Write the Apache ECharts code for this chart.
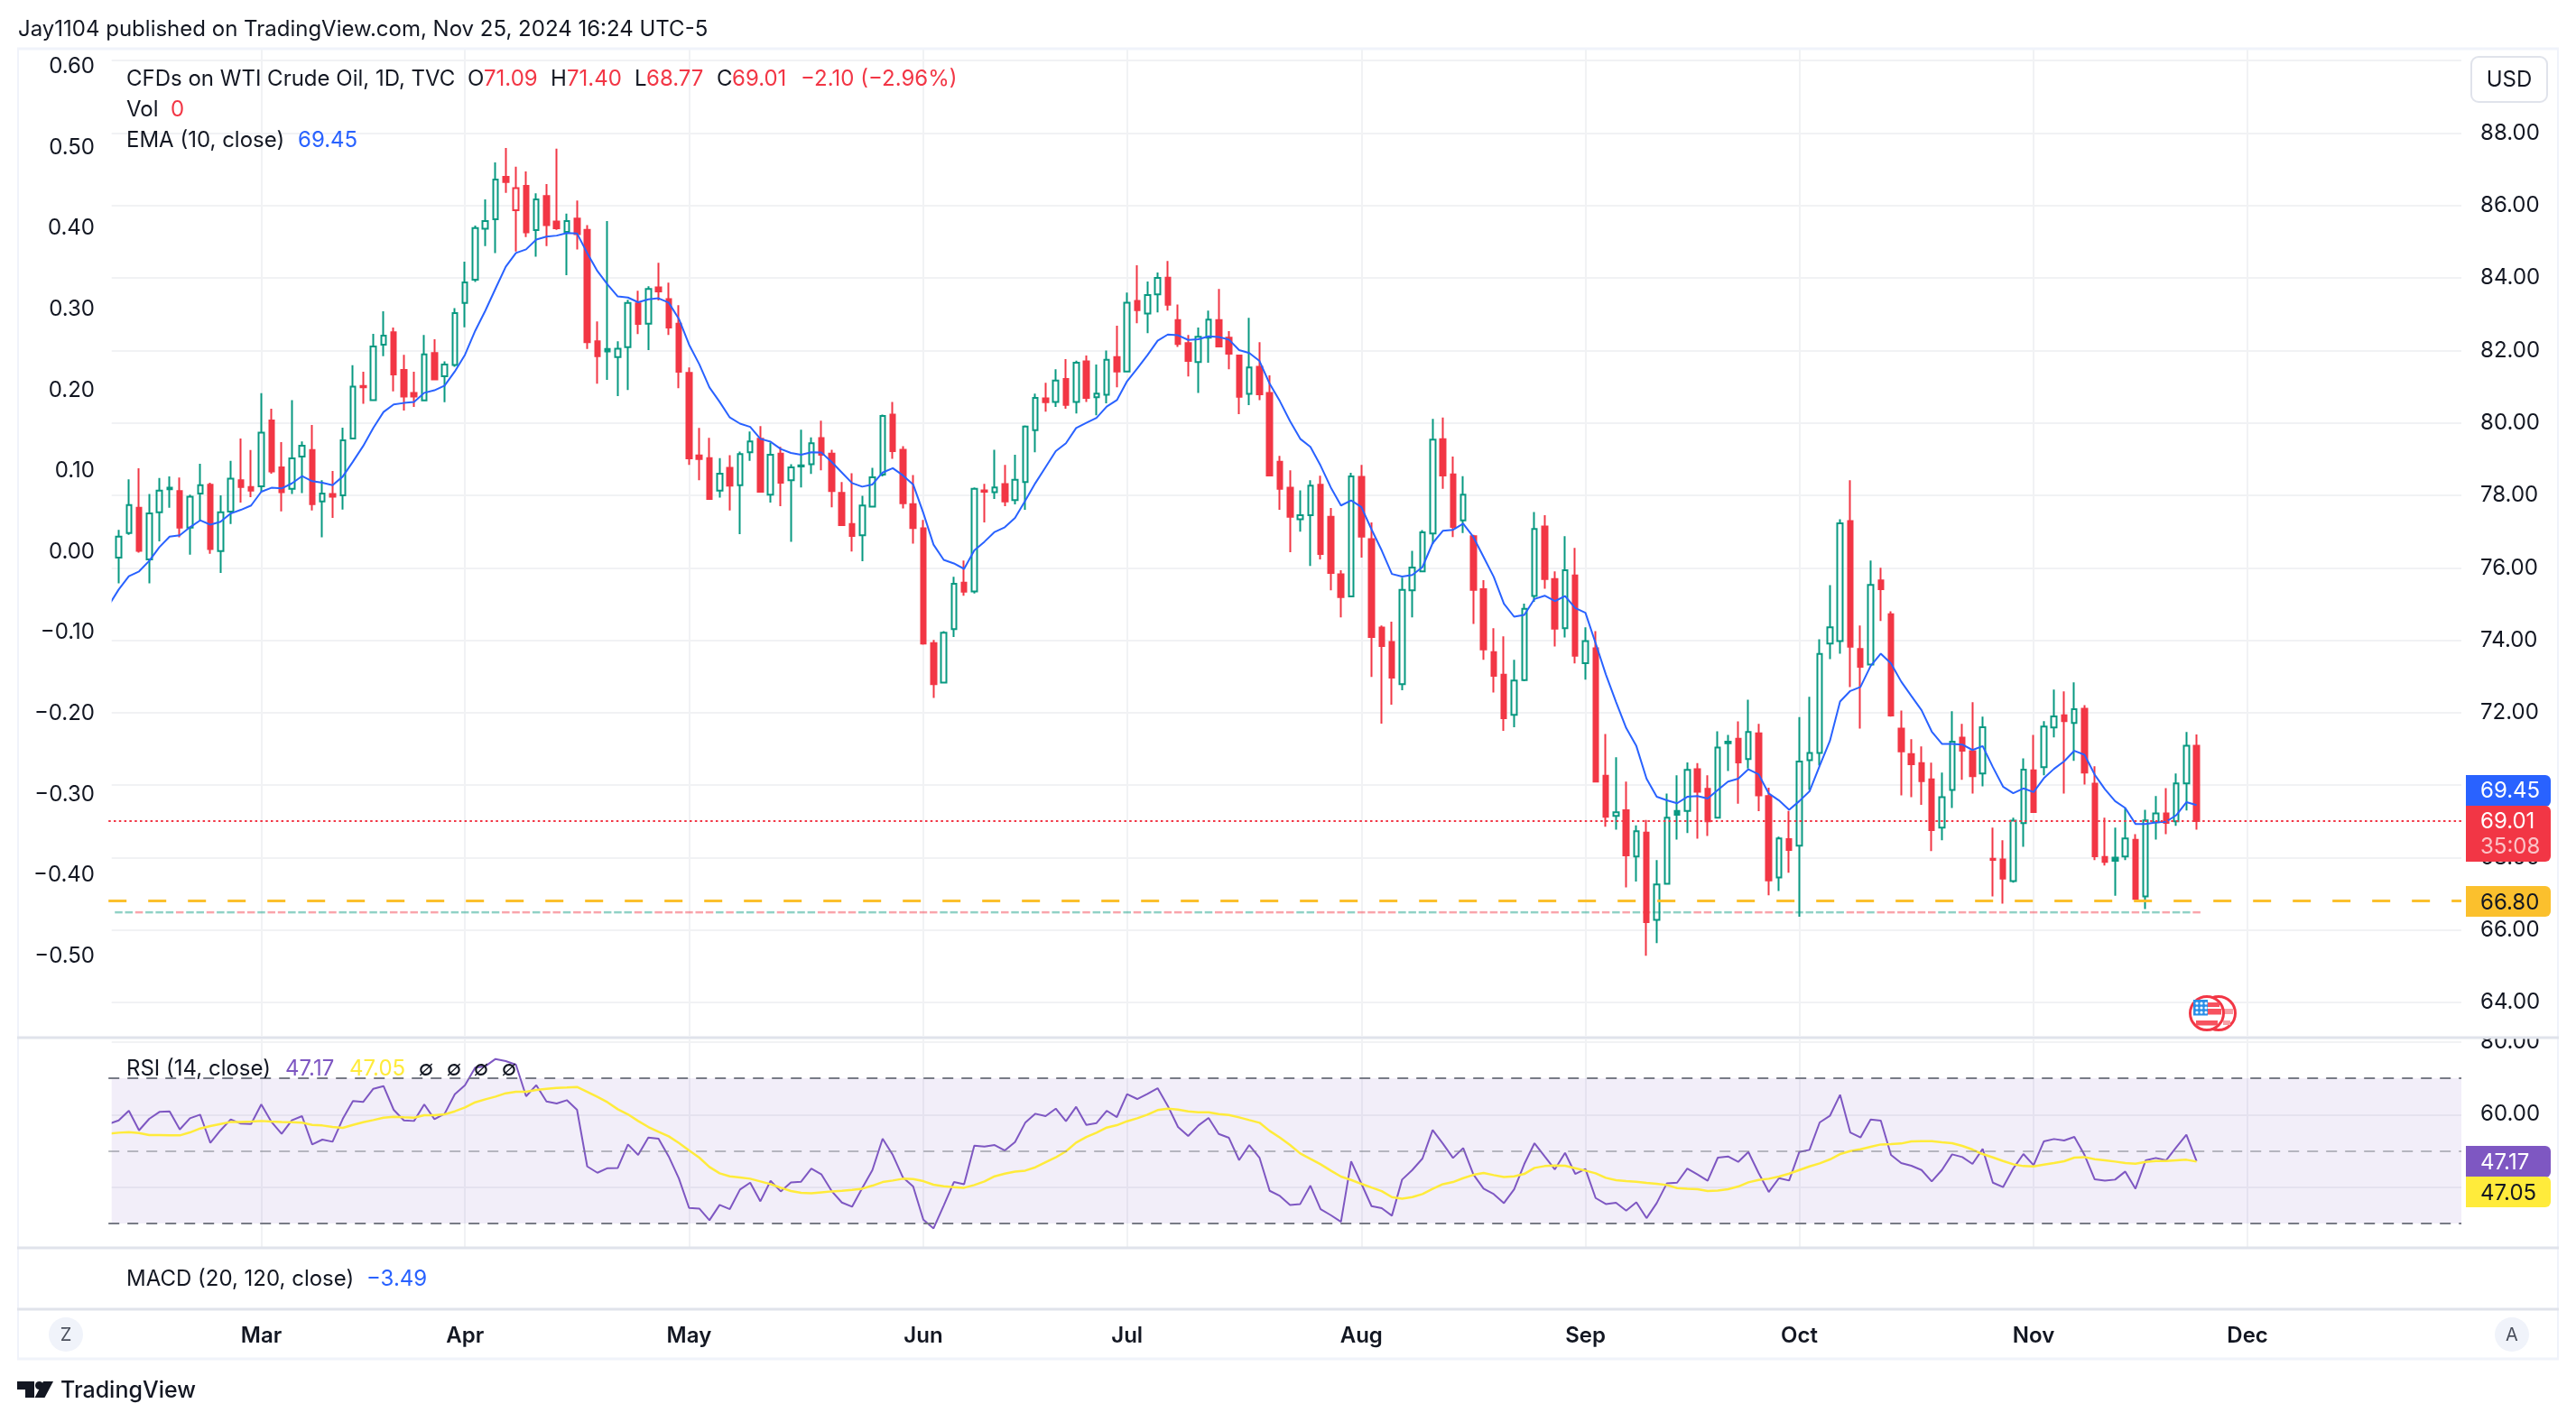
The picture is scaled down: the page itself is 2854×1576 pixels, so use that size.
<!DOCTYPE html>
<html><head><meta charset="utf-8">
<style>html,body{margin:0;padding:0;background:#fff}#c{width:2854px;height:1576px}</style>
<script src="https://cdn.jsdelivr.net/npm/echarts@6/dist/echarts.min.js"></script>
</head><body><div id="c"></div>
<script>
// open, close, low, high : Feb 12 – Nov 25 2024
const ohlc=[
[76.28,76.86,75.57,77.05],[76.96,77.73,76.91,78.44],[77.66,76.47,76.42,78.75],[76.23,77.50,75.57,78.04],[77.53,78.13,76.73,78.48],[78.21,78.17,77.66,78.52],[78.12,77.11,76.84,78.49],[77.11,77.96,76.36,78.02],[78.05,78.28,77.30,78.87],[78.29,76.52,76.39,78.35],
[76.46,77.53,75.86,78.00],[77.55,78.46,77.21,78.95],[78.42,78.23,77.80,79.57],[78.23,78.13,77.95,79.25],[78.25,79.73,78.10,80.82],[80.07,78.66,78.60,80.39],[78.77,78.09,77.56,79.47],[78.18,79.02,78.04,80.63],[79.07,79.37,78.06,79.49],[79.25,77.76,77.58,79.94],
[77.83,78.05,76.84,78.42],[78.04,77.96,77.38,78.67],[78.00,79.52,77.61,79.87],[79.57,81.00,79.55,81.59],[81.02,80.98,80.53,81.41],[80.63,82.11,80.60,82.46],[82.16,82.41,81.84,83.08],[82.50,81.34,80.87,82.63],[81.46,80.73,80.34,81.88],[80.83,80.73,80.44,81.41],
[80.62,81.89,80.60,82.43],[81.93,81.20,81.19,82.31],[81.29,81.61,80.57,81.70],[81.60,83.03,81.55,83.17],[83.31,83.88,82.64,84.45],[83.95,85.38,83.89,85.45],[85.36,85.57,84.88,86.17],[85.62,86.72,84.69,87.19],[86.79,86.65,86.35,87.59],[85.87,86.48,84.73,87.07],
[86.54,85.26,85.13,86.94],[85.32,86.17,84.59,86.34],[86.26,85.46,84.88,86.59],[85.56,85.37,85.33,87.57],[85.27,85.57,84.08,85.78],[85.64,85.21,84.79,86.14],[85.33,82.23,82.04,85.46],[82.25,81.84,81.08,82.80],[82.04,81.97,81.19,85.57],[81.82,82.05,80.74,82.25],
[82.09,83.31,80.91,83.40],[83.30,82.73,82.45,83.65],[82.74,83.70,82.01,83.77],[83.74,83.63,83.38,84.42],[83.42,82.63,82.43,83.87],[82.74,81.41,80.96,83.25],[81.38,79.02,78.84,81.53],[79.10,79.00,78.42,79.86],[79.03,77.90,77.90,79.59],[78.13,78.60,77.94,79.03],
[78.76,78.27,77.58,79.11],[78.28,79.14,76.93,79.21],[79.19,79.49,78.95,79.76],[79.56,78.10,78.10,79.91],[78.02,79.12,77.80,79.46],[79.15,78.35,77.70,79.34],[78.42,78.77,76.72,78.86],[78.80,78.83,78.22,79.81],[78.86,79.44,78.59,79.60],[79.58,79.12,78.69,80.06],
[79.15,78.12,77.67,79.26],[78.07,77.18,77.18,78.37],[77.21,76.88,76.45,78.61],[76.90,77.72,76.18,77.99],[77.69,78.50,77.69,78.76],[78.57,80.19,78.52,80.23],[80.23,79.22,79.01,80.58],[79.26,77.78,77.64,79.36],[77.76,77.10,76.67,78.56],[77.09,73.91,73.88,77.32],
[73.92,72.79,72.41,74.01],[72.83,74.21,72.82,74.25],[74.31,75.56,74.09,75.75],[75.59,75.34,75.23,76.20],[75.35,78.18,75.29,78.22],[78.14,78.10,77.25,78.32],[78.09,78.22,77.90,79.26],[78.31,77.83,77.70,78.84],[77.87,78.43,77.75,79.12],[78.37,79.90,77.60,79.93],
[79.80,80.69,79.19,80.81],[80.68,80.57,80.31,81.11],[80.58,81.17,80.44,81.48],[81.21,80.50,80.39,81.76],[80.58,81.66,80.26,81.72],[81.70,80.69,80.58,81.86],[80.71,80.81,80.21,81.61],[80.78,81.74,80.54,82.00],[81.82,81.42,80.98,82.68],[81.42,83.32,81.41,83.60],
[83.37,83.11,82.75,84.35],[83.02,83.53,82.48,83.90],[83.55,84.00,83.05,84.15],[84.01,83.26,83.10,84.47],[82.84,82.18,82.10,83.27],[82.20,81.71,81.28,82.43],[81.68,82.38,80.83,82.63],[82.35,82.85,81.66,83.10],[82.84,82.11,82.11,83.70],[82.35,81.91,81.48,82.53],
[81.86,80.72,80.24,81.88],[80.80,81.53,80.49,82.90],[81.55,80.79,80.63,82.23],[80.83,78.55,78.54,81.31],[78.93,78.18,77.60,79.09],[78.21,77.41,76.43,78.69],[77.34,77.45,77.00,78.14],[77.45,78.27,76.05,78.42],[78.29,76.38,76.23,78.54],[77.41,75.86,75.38,77.65],
[75.82,75.19,74.63,75.93],[75.21,78.52,75.20,78.62],[78.51,76.86,76.28,78.84],[76.79,74.09,72.99,77.25],[74.35,73.84,71.70,74.41],[73.95,72.97,72.22,74.51],[72.79,75.39,72.62,75.73],[75.38,76.01,74.63,76.47],[75.90,76.98,75.89,77.04],[76.95,79.54,76.66,80.11],
[79.55,78.55,78.18,80.15],[78.58,77.13,76.85,79.07],[77.31,78.02,76.96,78.53],[76.87,75.39,74.45,76.91],[75.41,73.75,73.46,75.66],[73.67,73.02,72.56,74.33],[73.05,71.85,71.50,74.11],[71.94,72.89,71.60,73.46],[72.90,74.87,72.87,75.01],[75.22,77.07,75.06,77.54],
[77.14,75.69,75.42,77.45],[75.69,74.32,73.83,75.90],[74.33,75.93,74.08,76.87],[75.79,73.57,73.36,76.55],[73.37,73.98,72.91,74.36],[73.78,70.10,70.10,74.25],[70.26,69.13,68.85,71.41],[69.15,69.25,68.77,70.77],[69.31,68.06,67.18,70.10],[68.03,68.73,67.34,68.89],
[68.69,66.22,65.29,69.04],[66.28,67.26,65.64,67.93],[67.28,69.10,67.27,69.77],[69.29,69.18,68.50,70.27],[69.29,70.42,68.68,70.63],[70.44,69.82,68.52,70.61],[69.90,69.00,68.60,70.27],[69.10,71.04,69.08,71.49],[71.16,71.20,70.39,71.39],[71.28,70.63,69.49,71.76],
[70.72,71.47,70.46,72.36],[71.43,69.72,69.28,71.69],[69.70,67.37,66.96,69.93],[67.45,68.53,67.08,68.58],[68.51,68.21,67.58,69.29],[68.33,70.65,66.37,71.88],[70.69,70.89,69.87,72.44],[70.89,73.62,70.54,74.03],[73.91,74.36,73.48,75.52],[73.98,77.23,73.63,77.34],
[77.29,73.82,72.71,78.42],[73.76,73.27,71.56,74.41],[73.33,75.53,73.31,76.20],[75.65,75.41,74.53,76.00],[74.72,71.92,71.89,74.80],[71.56,70.93,69.72,72.06],[70.86,70.58,69.67,71.27],[70.61,70.11,69.46,71.07],[70.16,68.76,68.18,70.62],[68.83,69.67,68.48,70.35],
[69.87,71.20,69.37,72.04],[71.31,70.95,70.15,71.69],[70.94,70.25,69.77,72.29],[70.32,71.60,69.97,71.89],[67.97,67.94,66.93,68.83],[67.95,67.42,66.73,68.48],[67.35,69.02,67.31,69.10],[68.95,70.43,68.30,70.74],[70.41,69.26,69.26,71.39],[70.50,71.62,70.27,71.77],
[71.59,71.90,71.32,72.64],[71.93,71.77,69.77,72.59],[71.72,72.10,70.67,72.84],[72.11,70.35,70.02,72.21],[70.04,68.04,67.93,70.52],[68.02,67.88,67.78,69.10],[68.00,67.91,66.95,68.83],[68.03,68.53,67.93,69.37],[68.49,66.86,66.84,68.65],[66.93,69.03,66.58,69.32],
[68.98,69.22,68.50,69.70],[69.22,68.96,68.65,69.92],[69.00,70.05,68.88,70.32],[70.05,71.09,69.30,71.47],[71.09,69.01,68.77,71.40]
];
// candle tone per session, G = closed above the previous close, R = below
const tones=("GGRGGGRGGR"+"GGRRGRRGGR"+"GRGGRGGRRR"+"GRGGGGGGRR"+"RGRRGRRRGG"+"GRGRRRRRRG"+"RGGRGRGGGR"+"RRRGGGRRRR"+"RGGRGRGRGG"+"GRGRGRGGRG"+
"RGGRRRGGRR"+"RGRRRRGGRR"+"RGRRRRGGGG"+"RRGRRRRGGG"+"RRGRGRRGRG"+"RGGGGRRGGR"+"GRRGRGGGGG"+"RRGRRRRRRG"+"GRRGRRGGRG"+"GRGRRRGGRG"+"GRGGR");
// first entry belongs to the session before the first visible candle
const ema=[74.95,
75.40,75.77,75.90,76.19,76.57,76.86,76.90,77.12,77.31,77.19,
77.27,77.50,77.60,77.72,78.10,78.21,78.19,78.33,78.53,78.39,
78.35,78.28,78.52,78.93,79.36,79.86,80.30,80.51,80.55,80.58,
80.83,80.90,81.03,81.42,81.88,82.54,83.10,83.71,84.31,84.69,
84.79,85.06,85.14,85.17,85.24,85.23,84.69,84.19,83.82,83.49,
83.46,83.33,83.41,83.44,83.32,82.87,82.16,81.62,80.98,80.58,
80.15,79.98,79.89,79.56,79.48,79.28,79.17,79.12,79.19,79.18,
78.92,78.63,78.34,78.24,78.30,78.63,78.75,78.55,78.30,77.51,
76.64,76.22,76.12,75.97,76.48,76.72,76.99,77.12,77.38,77.85,
78.34,78.78,79.22,79.44,79.86,80.00,80.14,80.45,80.63,81.15,
81.50,81.87,82.27,82.44,82.42,82.29,82.31,82.39,82.37,82.30,
82.01,81.93,81.71,81.08,80.60,80.05,79.56,79.34,78.82,78.22,
77.72,77.86,77.68,77.06,76.48,75.83,75.76,75.80,76.02,76.68,
77.02,77.05,77.22,76.85,76.30,75.75,75.01,74.65,74.70,75.14,
75.23,75.08,75.22,74.89,74.76,73.92,73.06,72.30,71.58,71.08,
70.18,69.68,69.58,69.50,69.68,69.70,69.63,69.87,70.10,70.18,
70.44,70.30,69.77,69.58,69.32,69.56,69.83,70.54,71.22,72.31,
72.60,72.71,73.29,73.63,73.36,72.86,72.46,72.07,71.48,71.14,
71.14,71.12,70.97,71.08,70.50,69.96,69.78,69.91,69.81,70.19,
70.45,70.66,70.95,70.84,70.29,69.89,69.56,69.37,68.93,68.93,
68.97,68.99,69.17,69.53,69.45];
const rsi=[57.40,
58.40,61.05,55.66,58.81,60.72,60.88,55.91,58.98,59.97,52.18,
55.66,58.65,57.49,57.40,62.79,57.98,54.67,58.40,59.56,51.77,
53.10,52.52,58.81,63.70,63.45,67.10,67.84,61.30,58.40,58.23,
62.79,58.73,60.22,65.61,68.09,72.90,73.31,75.30,74.72,73.73,
65.03,68.09,63.62,63.04,63.95,61.30,45.72,43.98,45.23,45.31,
51.77,48.87,53.68,53.34,48.46,42.41,34.29,34.12,30.89,35.12,
33.96,39.34,41.25,36.11,41.75,38.85,41.33,41.50,45.14,43.49,
38.93,35.78,34.62,39.76,44.73,53.34,48.87,42.66,40.17,31.06,
28.66,34.95,41.41,40.83,51.44,51.19,51.61,50.11,52.43,57.74,
60.22,59.56,61.63,58.15,62.13,57.16,57.65,61.05,59.31,65.61,
64.28,65.69,67.26,62.38,56.58,54.09,56.99,59.06,54.67,53.59,
47.46,51.61,48.13,39.01,37.60,35.12,35.37,40.42,33.96,32.30,
30.48,47.13,41.00,34.79,34.21,32.14,42.08,44.73,47.88,55.75,
52.02,48.04,50.78,43.49,39.59,38.10,35.62,39.43,46.39,52.10,
48.46,44.89,49.45,43.65,44.98,37.02,35.37,35.70,33.54,35.86,
31.47,35.62,41.08,41.25,45.14,43.49,41.75,48.13,48.46,46.97,
49.70,43.90,38.68,42.49,41.83,49.70,50.28,57.82,59.64,65.44,
55.08,53.68,58.65,58.32,48.87,46.63,45.89,44.73,41.58,44.73,
49.04,48.29,46.39,50.53,41.25,40.01,45.14,49.12,46.05,52.60,
53.26,52.85,53.84,48.87,42.16,41.83,42.08,44.31,39.59,47.38,
48.04,47.38,50.94,54.42,47.17];
const rsiMa=[54.75,
55.00,55.17,54.92,54.34,54.34,54.26,54.26,55.08,56.16,56.82,
57.40,57.98,57.98,58.07,58.23,58.07,57.98,57.90,57.74,57.16,
56.99,56.58,56.33,57.16,57.90,58.48,59.14,59.39,59.23,59.14,
59.81,59.81,60.06,60.88,61.96,63.37,64.20,64.94,65.86,66.27,
66.27,66.77,67.10,67.35,67.43,67.60,66.27,64.86,63.37,61.46,
60.06,58.23,56.58,55.25,54.01,52.18,50.11,48.13,45.56,43.82,
42.99,42.66,42.33,41.58,40.83,39.84,38.93,38.43,38.35,38.60,
38.85,39.01,39.26,39.59,40.42,41.41,41.83,42.33,42.24,41.66,
40.67,40.25,40.01,39.84,40.59,41.58,42.99,43.73,44.31,44.56,
45.47,46.88,48.21,49.87,52.27,53.84,55.00,56.41,57.07,58.15,
58.98,59.97,61.22,61.63,61.38,60.88,60.64,60.64,60.14,59.89,
59.23,58.48,57.74,55.50,53.68,51.61,49.29,47.79,46.30,44.56,
42.91,41.99,40.92,39.92,38.93,37.27,36.86,37.27,38.10,39.51,
40.83,41.41,42.49,43.40,43.90,43.32,42.82,42.99,43.65,45.31,
45.81,45.97,45.89,45.23,44.56,43.82,42.57,41.91,41.66,41.50,
41.17,40.92,40.59,39.76,39.59,39.43,38.93,39.09,39.43,40.17,
41.33,41.99,42.33,42.91,43.73,44.73,45.72,46.55,47.63,49.12,
49.95,50.45,51.11,51.77,51.85,52.02,52.60,52.68,52.68,52.35,
52.10,51.36,50.36,49.12,48.21,47.21,46.30,45.81,45.72,46.22,
46.63,47.13,48.13,48.29,47.71,47.38,47.05,46.63,46.47,46.97,
47.21,47.21,47.38,47.55,47.05];
const volumeMarkerLevel=66.49;
const lastClose=69.01, alertLevel=66.80;
const rsiBands=[70,50,30];
const monthLabels=['Mar','Apr','May','Jun','Jul','Aug','Sep','Oct','Nov','Dec'];
const monthStarts=['2024-03-01','2024-04-01','2024-05-01','2024-06-03','2024-07-01','2024-08-01','2024-09-02','2024-10-01','2024-11-01','2024-12-02'];
const firstSession='2024-02-09', holidays=['2024-03-29'], sessionCount=232;

const categories=[];
for(let d=new Date(firstSession+'T00:00:00Z');categories.length<sessionCount;d=new Date(+d+864e5)){
  const s=d.toISOString().slice(0,10),w=d.getUTCDay();
  if(w!==0&&w!==6&&!holidays.includes(s))categories.push(s);
}
const isMonth=(i,v)=>monthStarts.includes(v);
const monthName=v=>monthLabels[monthStarts.indexOf(v)]||'';

const GREEN='#089981',RED='#f23645',BLUE='#2962ff',INK='#131722',PURPLE='#7e57c2',YELLOW='#ffeb3b',GRID='#f1f2f4',FRAME='#f0f3fa',SEP='#e0e3eb',ORANGE='#fbc02d';
const FF='Inter, "Liberation Sans", sans-serif';
const font=(s,w)=>(w||400)+' '+s+'px '+FF;

const candleData=[{value:['-','-','-','-']}].concat(ohlc.map((r,i)=>{
  const c=tones[i]==='G'?GREEN:RED;
  const fill=r[1]>r[0]?'rgba(255,255,255,0)':c;
  return {value:r,itemStyle:{color:fill,color0:fill,borderColor:c,borderColor0:c}};
}));
const volData=[null].concat(ohlc.map((r,i)=>({value:volumeMarkerLevel,itemStyle:{color:tones[i]==='G'?GREEN:RED,opacity:0.45}})));

const L=120.2,W=231*11.285;
const blank={show:false};
const catAxis=(g,extra)=>Object.assign({type:'category',gridIndex:g,data:categories,boundaryGap:false,axisLine:blank,axisTick:blank,axisLabel:blank,splitLine:blank},extra||{});
const vLines={show:true,interval:isMonth,lineStyle:{color:GRID,width:2}};

const t=(text,x,y,fill,f,align,z)=>({type:'text',z:z||30,silent:true,style:{text,x,y:y+1.5,fill:fill||INK,font:f||font(24),align:align||'left',verticalAlign:'middle'}});
const rect=(x,y,w,h,fill,z,r)=>({type:'rect',z:z||5,silent:true,shape:{x,y,width:w,height:h,r:r||0},style:{fill}});
const hl=(x1,x2,y,c,w,z)=>({type:'line',z:z||25,silent:true,shape:{x1,y1:y,x2,y2:y},style:{stroke:c,lineWidth:w}});
const vl=(x,y1,y2,c,w,z)=>({type:'line',z:z||25,silent:true,shape:{x1:x,y1,x2:x,y2},style:{stroke:c,lineWidth:w}});
const dot=(cx,cy)=>({type:'circle',z:30,silent:true,shape:{cx,cy,r:1.6},style:{fill:'#fff'}});

const F=24;
const axisText={color:INK,fontFamily:FF,fontSize:F,padding:[6,0,0,0]};
const graphics=[
  rect(21,55,102.7,1327,'#fff',5),
  rect(2731,1122,102,27,'#fff',6),
  // frame and separators
  hl(19,2835,54,FRAME,3),hl(19,2835,1506,FRAME,3),vl(20,54,1506,FRAME,2),vl(2834,54,1506,FRAME,2),
  hl(19,2835,1150,SEP,3),hl(19,2835,1383,SEP,3),hl(19,2835,1451,SEP,3),
  // header
  t('Jay1104 published on TradingView.com, Nov 25, 2024 16:24 UTC-5',20,31,INK,font(24)),
  t('CFDs on WTI Crude Oil, 1D, TVC',140,86),
  t('O',518,86),t('71.09',536,86,RED),t('H',610,86),t('71.40',628,86,RED),t('L',703,86),t('68.77',716,86,RED),t('C',794,86),t('69.01',811,86,RED),
  t('−2.10 (−2.96%)',887,86,RED),
  t('Vol',140,120),t('0',189,120,RED),
  t('EMA (10, close)',140,154),t('69.45',330,154,BLUE),
  t('RSI (14, close)',140,1183),t('47.17',316,1183,PURPLE),t('47.05',387,1183,YELLOW),
  t('∅',472,1183,INK,font(24),'center'),t('∅',503,1183,INK,font(24),'center'),t('∅',533,1183,INK,font(24),'center'),t('∅',564,1183,INK,font(24),'center'),
  t('MACD (20, 120, close)',140,1416),t('−3.49',406,1416,BLUE),
  // USD button
  {type:'rect',z:26,silent:true,shape:{x:2738,y:63,width:84,height:50,r:8},style:{fill:'#fff',stroke:SEP,lineWidth:2}},
  t('USD',2780,87,INK,font(24),'center'),
  // price tags
  {type:'rect',z:26,silent:true,shape:{x:2732,y:859,width:94,height:35,r:[0,6,6,0]},style:{fill:BLUE}},
  t('69.45',2748,875,'#fff'),
  {type:'rect',z:27,silent:true,shape:{x:2732,y:893,width:94,height:62,r:[0,6,6,0]},style:{fill:RED}},
  t('69.01',2748,909,'#fff'),t('35:08',2748,937,'rgba(255,255,255,0.7)'),
  {type:'rect',z:26,silent:true,shape:{x:2732,y:982,width:94,height:34,r:[0,6,6,0]},style:{fill:ORANGE}},
  t('66.80',2748,999,INK),
  {type:'rect',z:26,silent:true,shape:{x:2732,y:1270,width:94,height:35,r:[0,6,6,0]},style:{fill:PURPLE}},
  t('47.17',2748,1287,'#fff'),
  {type:'rect',z:27,silent:true,shape:{x:2732,y:1304,width:94,height:34,r:[0,6,6,0]},style:{fill:YELLOW}},
  t('47.05',2748,1321,INK),
  // corner buttons
  {type:'circle',z:26,silent:true,shape:{cx:73,cy:1479,r:19},style:{fill:FRAME}},t('Z',73,1478,'#4a4f5c',font(20),'center'),
  {type:'circle',z:26,silent:true,shape:{cx:2783,cy:1479,r:19},style:{fill:FRAME}},t('A',2783,1478,'#4a4f5c',font(20),'center'),
  // TradingView logo
  {type:'polygon',z:26,silent:true,shape:{points:[[19,1531],[38,1531],[38,1549],[28,1549],[28,1540],[19,1540]]},style:{fill:INK}},
  {type:'circle',z:26,silent:true,shape:{cx:43.5,cy:1535.5,r:4.5},style:{fill:INK}},
  {type:'polygon',z:26,silent:true,shape:{points:[[59,1531],[49.5,1549],[38.5,1549],[48,1531]]},style:{fill:INK}},
  t('TradingView',67,1540,INK,font(25,500)),
  // US event badge
  {type:'circle',z:26,silent:true,shape:{cx:2458,cy:1123,r:18.5},style:{fill:'#fff',stroke:RED,lineWidth:3}},
  rect(2464,1118,10,6,'#f7a0a6',27),rect(2463,1131,8,5,'#f7a0a6',27),
  {type:'circle',z:28,silent:true,shape:{cx:2445,cy:1123,r:18.5},style:{fill:'#fff',stroke:RED,lineWidth:3}},
  rect(2430,1108,16,17.5,'#2a8fe8',29),rect(2446,1111,13,5,'#f7525f',29),rect(2446,1118,15,6.5,'#f7525f',29),rect(2433,1131,24,5.5,'#f7525f',29),
  dot(2434,1112),dot(2439,1112),dot(2444,1112),dot(2434,1117),dot(2439,1117),dot(2444,1117),dot(2434,1122),dot(2439,1122),dot(2444,1122)
];

const option={
  animation:false,
  backgroundColor:'#fff',
  tooltip:{show:false},
  grid:[
    {left:L,top:67.2,width:W,height:1043.9},
    {left:124,top:73.9,width:100,height:985.6},
    {left:L,top:54,width:W,height:1094},
    {left:L,top:1154.75,width:W,height:241.5},
    {left:L,top:1152,width:W,height:231},
    {left:L,top:1383,width:W,height:68}
  ],
  xAxis:[
    catAxis(0),
    {type:'value',gridIndex:1,show:false},
    catAxis(2,{splitLine:vLines}),
    catAxis(3),
    catAxis(4,{splitLine:vLines}),
    catAxis(5,{axisLabel:{show:true,interval:isMonth,formatter:monthName,margin:18,hideOverlap:false,color:INK,fontFamily:FF,fontSize:F,fontWeight:600}})
  ],
  yAxis:[
    {type:'value',gridIndex:0,position:'right',min:64,max:90,interval:2,axisLine:blank,axisTick:blank,
     splitLine:{show:true,lineStyle:{color:GRID,width:2}},
     axisLabel:Object.assign({showMaxLabel:false,margin:21,formatter:v=>v.toFixed(2)},axisText)},
    {type:'value',gridIndex:1,position:'left',min:-0.5,max:0.6,interval:0.1,z:10,axisLine:blank,axisTick:blank,splitLine:blank,
     axisLabel:Object.assign({margin:19,formatter:v=>(Math.abs(v)<1e-6?0:v).toFixed(2).replace('-','−')},axisText)},
    {type:'value',gridIndex:2,show:false},
    {type:'value',gridIndex:3,position:'right',min:20,max:80,interval:20,axisLine:blank,axisTick:blank,
     splitLine:{show:true,showMinLine:false,lineStyle:{color:GRID,width:2}},
     axisLabel:Object.assign({showMinLabel:false,margin:21,formatter:v=>v.toFixed(2)},axisText)},
    {type:'value',gridIndex:4,show:false},
    {type:'value',gridIndex:5,show:false}
  ],
  series:[
    {type:'scatter',xAxisIndex:0,yAxisIndex:0,symbol:'rect',symbolSize:[8.5,2.5],data:volData,silent:true,z:1},
    {type:'candlestick',xAxisIndex:0,yAxisIndex:0,barWidth:6,data:candleData,z:2,silent:true,
     itemStyle:{borderWidth:2},
     markLine:{silent:true,symbol:'none',label:blank,animation:false,data:[
       {yAxis:alertLevel,lineStyle:{color:ORANGE,width:3,type:[20,24]}},
       {yAxis:lastClose,lineStyle:{color:RED,width:2,type:[2.5,3.3]}}
     ]}},
    {type:'line',xAxisIndex:0,yAxisIndex:0,data:ema,showSymbol:false,symbol:'none',z:3,silent:true,lineStyle:{color:BLUE,width:2}},
    {type:'line',xAxisIndex:3,yAxisIndex:3,data:rsi,symbol:'none',z:3,silent:true,lineStyle:{color:PURPLE,width:2},
     markArea:{silent:true,itemStyle:{color:'rgba(126,87,194,0.1)'},data:[[{yAxis:rsiBands[2]},{yAxis:rsiBands[0]}]]},
     markLine:{silent:true,symbol:'none',label:blank,animation:false,data:[
       {yAxis:rsiBands[0],lineStyle:{color:'#787b86',width:2,type:[12,9]}},
       {yAxis:rsiBands[1],lineStyle:{color:'rgba(120,123,134,0.5)',width:2,type:[12,9]}},
       {yAxis:rsiBands[2],lineStyle:{color:'#787b86',width:2,type:[12,9]}}
     ]}},
    {type:'line',xAxisIndex:3,yAxisIndex:3,data:rsiMa,symbol:'none',z:3,silent:true,lineStyle:{color:YELLOW,width:2.5}}
  ],
  graphic:{elements:graphics}
};
echarts.init(document.getElementById('c')).setOption(option);
</script></body></html>
